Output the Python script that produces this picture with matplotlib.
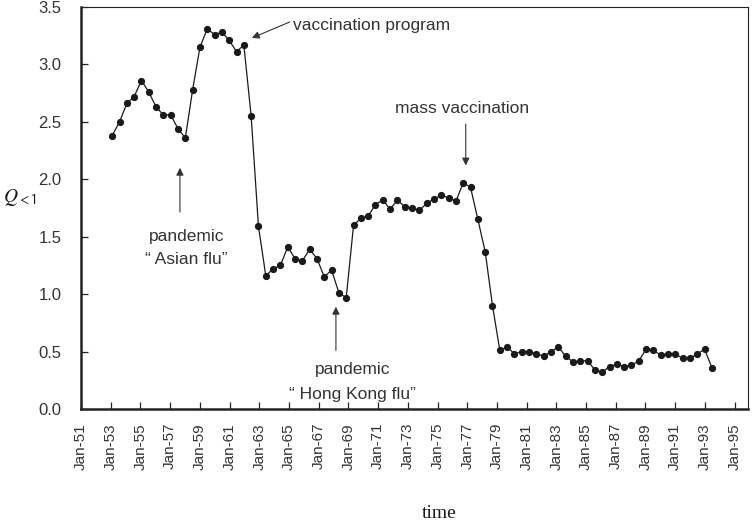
import numpy as np
import matplotlib
matplotlib.use("Agg")
import matplotlib.pyplot as plt

# Q<1 values, one point roughly every half year from Jan-53 to mid-93
q_values = [2.38, 2.50, 2.66, 2.72, 2.86, 2.76, 2.63, 2.56, 2.56, 2.44,
            2.36, 2.78, 3.15, 3.31, 3.26, 3.28, 3.21, 3.11, 3.17, 2.55,
            1.59, 1.16, 1.22, 1.25, 1.41, 1.31, 1.29, 1.39, 1.31, 1.15,
            1.21, 1.01, 0.97, 1.60, 1.66, 1.68, 1.78, 1.82, 1.74, 1.82,
            1.76, 1.75, 1.73, 1.79, 1.83, 1.86, 1.84, 1.81, 1.97, 1.93,
            1.65, 1.37, 0.90, 0.51, 0.54, 0.48, 0.50, 0.50, 0.48, 0.46,
            0.50, 0.54, 0.46, 0.41, 0.42, 0.42, 0.34, 0.32, 0.37, 0.39,
            0.37, 0.38, 0.42, 0.52, 0.51, 0.47, 0.48, 0.48, 0.44, 0.44,
            0.48, 0.52, 0.36]
first_year = 1953.1
last_year = 1993.47
tick_years = list(range(1951, 1996, 2))
tick_labels = ["Jan-%02d" % (y % 100) for y in tick_years]

years = np.linspace(first_year, last_year, len(q_values))

plt.rcParams['font.family'] = ['Liberation Sans', 'DejaVu Sans']
plt.rcParams['mathtext.fontset'] = 'stix'

fig = plt.figure(figsize=(7.52, 5.23), dpi=100)
ax = fig.add_axes([81 / 752, 1 - 409 / 523, (748 - 81) / 752, (409 - 7) / 523])

ax.plot(years, q_values, color='#1a1a1a', lw=0.9, marker='o', ms=4.2,
        mfc='#1a1a1a', mec='#1a1a1a')

ax.set_xlim(1951, 1995.9)
ax.set_ylim(0, 3.5)
ax.set_xticks(tick_years)
ax.set_xticklabels(tick_labels, rotation=90, fontsize=11, color='#333333')
ax.set_yticks(np.arange(0, 3.51, 0.5))
ax.set_yticklabels(["%.1f" % v for v in np.arange(0, 3.51, 0.5)],
                   fontsize=12, color='#333333')
ax.tick_params(axis='x', direction='in', length=5, width=0.9, color='#222222', pad=10)
ax.tick_params(axis='y', direction='in', length=5, width=0.9, color='#222222', pad=14)

for side in ['left', 'bottom']:
    ax.spines[side].set_linewidth(1.8)
    ax.spines[side].set_color('#222222')
for side in ['top', 'right']:
    ax.spines[side].set_linewidth(0.8)
    ax.spines[side].set_color('#222222')

# annotations
arrow = dict(arrowstyle='-|>', color='#333333', lw=0.8, mutation_scale=11,
             shrinkA=0, shrinkB=0)
txt = dict(fontsize=12.5, color='#333333')

ax.annotate('', xy=(1962.5, 3.23), xytext=(1965.06, 3.37), arrowprops=arrow)
ax.text(1965.3, 3.34, 'vaccination program', ha='left', va='center', **txt)

ax.annotate('', xy=(1976.9, 2.12), xytext=(1976.9, 2.48), arrowprops=arrow)
ax.text(1976.67, 2.62, 'mass vaccination', ha='center', va='center', **txt)

ax.annotate('', xy=(1957.66, 2.10), xytext=(1957.66, 1.715), arrowprops=arrow)
ax.text(1958.1, 1.50, 'pandemic', ha='center', va='center', **txt)
ax.text(1958.1, 1.30, '\u201c Asian flu\u201d', ha='center', va='center', **txt)

ax.annotate('', xy=(1968.16, 0.89), xytext=(1968.16, 0.51), arrowprops=arrow)
ax.text(1969.3, 0.34, 'pandemic', ha='center', va='center', **txt)
ax.text(1969.3, 0.13, '\u201c Hong Kong flu\u201d', ha='center', va='center', **txt)

fig.text(20 / 752, 1 - 197 / 523, r'$\mathit{Q}_{\mathsf{{<}1}}$', fontsize=14,
         ha='center', va='center', color='#1a1a1a')
fig.text(439 / 752, 1 - 514 / 523, 'time', family='Liberation Serif',
         fontsize=14, ha='center', va='center', color='#1a1a1a')

fig.savefig('out.png', dpi=100)
